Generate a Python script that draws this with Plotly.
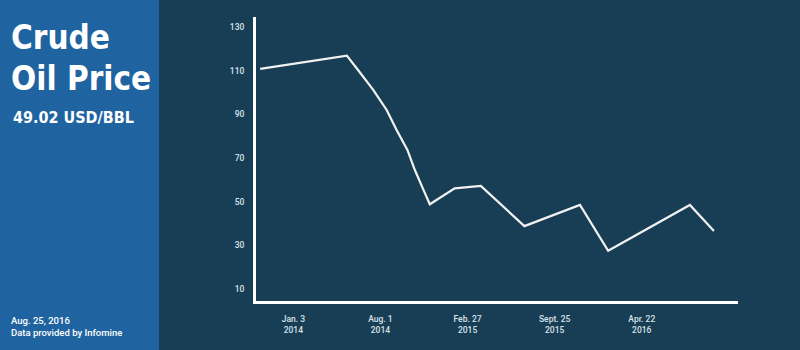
import plotly.graph_objects as go

# ---- data ----
dates = ["2013-10-15", "2014-05-12", "2014-06-08", "2014-07-15", "2014-08-16",
         "2014-09-09", "2014-10-05", "2014-10-23", "2014-11-13", "2014-11-28",
         "2015-01-27", "2015-03-31", "2015-07-14", "2015-11-25", "2016-02-01",
         "2016-08-16", "2016-10-13"]
prices = [110.8, 116.9, 110.3, 101.1, 92.0, 82.8, 73.7, 64.5, 55.3, 48.8,
          56.1, 57.2, 38.8, 48.5, 27.5, 48.5, 36.6]

x_tickvals = ["2014-01-03", "2014-08-01", "2015-02-27", "2015-09-25", "2016-04-22"]
x_ticktext = ["Jan. 3<br>2014", "Aug. 1<br>2014", "Feb. 27<br>2015",
              "Sept. 25<br>2015", "Apr. 22<br>2016"]
y_tickvals = [10, 30, 50, 70, 90, 110, 130]

title_lines = ["Crude", "Oil Price"]
subtitle = "49.02 USD/BBL"
footer = ["Aug. 25, 2016", "Data provided by Infomine"]

# ---- style ----
BG = "#173e55"
PANEL = "#1f64a0"
LINE = "#f2f2f2"
TICK = "#d9e2e8"

W, H = 800, 350
ML, MR, MT, MB = 256, 62, 17, 49
PW, PH = W - ML - MR, H - MT - MB


def px(x):
    return (x - ML) / PW


def py(y):
    return (H - MB - y) / PH


fig = go.Figure()

fig.add_trace(go.Scatter(
    x=dates, y=prices, mode="lines",
    line=dict(color=LINE, width=2.2, shape="linear"), hoverinfo="skip"))

# left panel
fig.add_shape(type="rect", xref="paper", yref="paper",
              x0=px(-5), x1=px(159), y0=py(H + 5), y1=py(-5),
              fillcolor=PANEL, line=dict(width=0), layer="below")

TFAM = "DejaVu Sans Condensed, Liberation Sans Narrow, sans-serif"
title_font = dict(family=TFAM, color="white", size=33)
fig.add_annotation(text="<b>%s</b>" % title_lines[0], xref="paper", yref="paper",
                   x=px(9), y=py(37), xanchor="left", yanchor="middle",
                   showarrow=False, font=title_font)
fig.add_annotation(text="<b>%s</b>" % title_lines[1], xref="paper", yref="paper",
                   x=px(9), y=py(78), xanchor="left", yanchor="middle",
                   showarrow=False, font=title_font)
fig.add_annotation(text="<b>%s</b>" % subtitle, xref="paper", yref="paper",
                   x=px(11), y=py(117), xanchor="left", yanchor="middle",
                   showarrow=False,
                   font=dict(family=TFAM, color="white", size=16))
fig.add_annotation(text="%s<br>%s" % tuple(footer), xref="paper", yref="paper",
                   x=px(9), y=py(326), xanchor="left", yanchor="middle", align="left",
                   showarrow=False,
                   font=dict(family="Roboto, sans-serif", color="white", size=9.5, weight=500))

fig.update_layout(
    width=W, height=H,
    margin=dict(l=ML, r=MR, t=MT, b=MB),
    paper_bgcolor=BG, plot_bgcolor=BG,
    showlegend=False,
    xaxis=dict(type="date", range=["2013-10-05", "2016-12-10"],
               tickvals=x_tickvals, ticktext=x_ticktext,
               showgrid=False, zeroline=False,
               showline=True, linecolor="white", linewidth=3,
               ticks="", ticklabelstandoff=8,
               tickfont=dict(family="Roboto, sans-serif", color=TICK, size=8.5, weight=500)),
    yaxis=dict(range=[4.5, 134.6], tickvals=y_tickvals,
               showgrid=False, zeroline=False,
               showline=True, linecolor="white", linewidth=3,
               ticks="", ticklabelstandoff=7,
               tickfont=dict(family="Roboto, sans-serif", color=TICK, size=8.5, weight=500)),
)

fig.write_html("out.html")
